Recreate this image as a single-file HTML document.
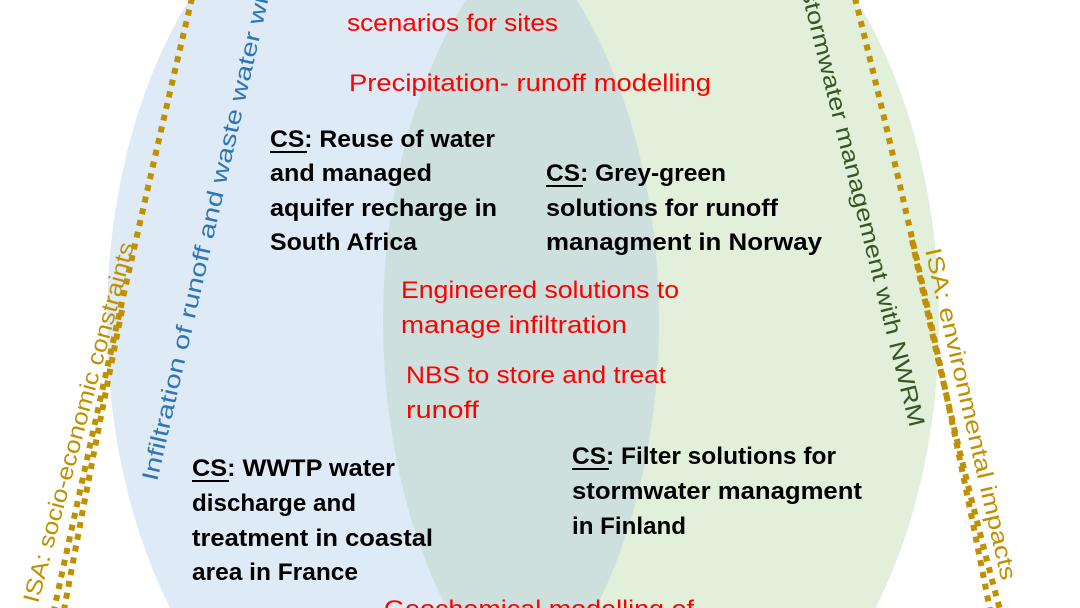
<!DOCTYPE html>
<html><head><meta charset="utf-8"><style>
html,body{margin:0;padding:0;background:#fff;width:1080px;height:608px;overflow:hidden;}
svg{display:block;}
text{font-family:"Liberation Sans",sans-serif;}
.b{font-weight:bold;font-size:24px;fill:#000;}
.r{font-size:24px;fill:#ff0000;}
</style></head><body>
<svg width="1080" height="608" viewBox="0 0 1080 608" xmlns="http://www.w3.org/2000/svg">
<defs>
<clipPath id="cb"><ellipse cx="383" cy="321" rx="276" ry="451"/></clipPath>
</defs>
<rect width="1080" height="608" fill="#fff"/>
<ellipse cx="383" cy="321" rx="276" ry="451" fill="#deeaf6"/>
<ellipse cx="661" cy="321" rx="278" ry="451" fill="#e2efda"/>
<ellipse cx="661" cy="321" rx="278" ry="451" fill="#cde0de" clip-path="url(#cb)"/>

<!-- dotted lines -->
<g fill="none" stroke="#c09000" stroke-width="6" stroke-dasharray="6 6">
<path d="M192 -2 Q130 260 54 610"/>
<path d="M122 310 Q92 460 64 610"/>
<path d="M855 -2 Q930 300 990 610"/>
<path d="M912 240 Q952 430 1000 610"/>
</g>

<!-- rotated labels -->
<text transform="translate(38,604) rotate(-75)" font-size="23" fill="#bf9000" textLength="372" lengthAdjust="spacingAndGlyphs">ISA: socio-economic constraints</text>
<text transform="translate(925,250) rotate(77)" font-size="23" fill="#bf9000" textLength="340" lengthAdjust="spacingAndGlyphs">ISA: environmental impacts</text>
<text transform="translate(157,482) rotate(-77)" font-size="23" fill="#2e75b6" textLength="520" lengthAdjust="spacingAndGlyphs">Infiltration of runoff and waste water with</text>
<text transform="translate(910,428) rotate(76)" font-size="23" fill="#375623" text-anchor="end" textLength="450" lengthAdjust="spacingAndGlyphs">stormwater management with NWRM</text>

<!-- red texts -->
<text class="r" x="347" y="31" textLength="211" lengthAdjust="spacingAndGlyphs">scenarios for sites</text>
<text class="r" x="349" y="91" textLength="362" lengthAdjust="spacingAndGlyphs">Precipitation- runoff modelling</text>
<text class="r" x="401" y="298" textLength="278" lengthAdjust="spacingAndGlyphs">Engineered solutions to</text>
<text class="r" x="401" y="333" textLength="226" lengthAdjust="spacingAndGlyphs">manage infiltration</text>
<text class="r" x="406" y="383" textLength="260" lengthAdjust="spacingAndGlyphs">NBS to store and treat</text>
<text class="r" x="406" y="418" textLength="73" lengthAdjust="spacingAndGlyphs">runoff</text>
<text class="r" x="384" y="617" textLength="310" lengthAdjust="spacingAndGlyphs">Geochemical modelling of</text>

<!-- black CS texts -->
<g>
<text class="b" x="270" y="147" textLength="225" lengthAdjust="spacingAndGlyphs">CS: Reuse of water</text>
<text class="b" x="270" y="181" textLength="162" lengthAdjust="spacingAndGlyphs">and managed</text>
<text class="b" x="270" y="216" textLength="227" lengthAdjust="spacingAndGlyphs">aquifer recharge in</text>
<text class="b" x="270" y="250" textLength="147" lengthAdjust="spacingAndGlyphs">South Africa</text>
<line x1="270" y1="152" x2="307" y2="152" stroke="#000" stroke-width="2"/>

<text class="b" x="546" y="181" textLength="180" lengthAdjust="spacingAndGlyphs">CS: Grey-green</text>
<text class="b" x="546" y="216" textLength="232" lengthAdjust="spacingAndGlyphs">solutions for runoff</text>
<text class="b" x="546" y="250" textLength="276" lengthAdjust="spacingAndGlyphs">managment in Norway</text>
<line x1="546" y1="186" x2="583" y2="186" stroke="#000" stroke-width="2"/>

<text class="b" x="192" y="476" textLength="203" lengthAdjust="spacingAndGlyphs">CS: WWTP water</text>
<text class="b" x="192" y="511" textLength="164" lengthAdjust="spacingAndGlyphs">discharge and</text>
<text class="b" x="192" y="546" textLength="241" lengthAdjust="spacingAndGlyphs">treatment in coastal</text>
<text class="b" x="192" y="580" textLength="166" lengthAdjust="spacingAndGlyphs">area in France</text>
<line x1="192" y1="481" x2="229" y2="481" stroke="#000" stroke-width="2"/>

<text class="b" x="572" y="464" textLength="264" lengthAdjust="spacingAndGlyphs">CS: Filter solutions for</text>
<text class="b" x="572" y="499" textLength="290" lengthAdjust="spacingAndGlyphs">stormwater managment</text>
<text class="b" x="572" y="534" textLength="114" lengthAdjust="spacingAndGlyphs">in Finland</text>
<line x1="572" y1="469" x2="609" y2="469" stroke="#000" stroke-width="2"/>
</g>
</svg>
</body></html>
